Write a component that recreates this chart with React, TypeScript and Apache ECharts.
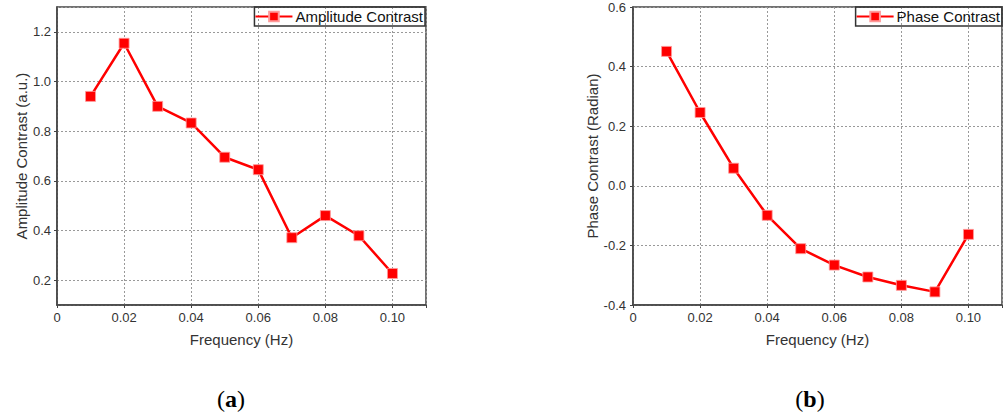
import React, { useEffect, useRef } from "react";
import * as echarts from "echarts";

const frequency = [0.01, 0.02, 0.03, 0.04, 0.05, 0.06, 0.07, 0.08, 0.09, 0.1];
const amplitude = [0.94, 1.154, 0.9, 0.833, 0.695, 0.645, 0.371, 0.46, 0.379, 0.227];
const phase = [0.451, 0.246, 0.059, -0.099, -0.211, -0.266, -0.306, -0.334, -0.356, -0.163];

const xTickLabel = (v: number) => {
  if (Math.abs(v) < 1e-9) return "0";
  if (v > 0.105) return "";
  return v.toFixed(2);
};
const yLabelA = (v: number) => {
  const k = v * 5;
  if (Math.abs(k - Math.round(k)) > 1e-6) return "";
  return v.toFixed(1);
};
const yLabelB = (v: number) => {
  const s = v.toFixed(1);
  return s === "-0.0" ? "0.0" : s;
};

const FONT = "Liberation Sans, Arial, sans-serif";
const TXT = "#333";

export default function App() {
  const ref = useRef<HTMLDivElement>(null);
  useEffect(() => {
    if (!ref.current) return;
    const chart = echarts.init(ref.current, undefined, { renderer: "svg" });
    const splitLine = { show: true, lineStyle: { color: "#999", type: [2, 2] as any, width: 1 } };
    const axisLine = { show: true, onZero: false, lineStyle: { color: "#444", width: 1.5 } };
    const axisTick = { show: true, length: 3, lineStyle: { color: "#444", width: 1 } };
    const xAxisCommon = {
      type: "value" as const,
      min: 0,
      max: 0.11,
      interval: 0.02,
      axisLine,
      axisTick,
      splitLine,
      axisLabel: { formatter: xTickLabel, color: TXT, fontSize: 13, fontFamily: FONT, margin: 6 },
      name: "Frequency (Hz)",
      nameLocation: "middle" as const,
      nameGap: 27,
      nameTextStyle: { fontSize: 15, fontFamily: FONT, color: TXT },
    };
    const seriesCommon = {
      type: "line" as const,
      symbol: "rect",
      symbolSize: 10,
      lineStyle: { color: "#ff0000", width: 2.5 },
      itemStyle: { color: "#ff0000", borderColor: "#ff9a9a", borderWidth: 0.8 },
      z: 5,
    };
    const legendCommon = {
      top: 7,
      orient: "horizontal" as const,
      borderColor: "#333",
      borderWidth: 1.5,
      padding: [2, 2, 2, 0],
      itemWidth: 37,
      itemHeight: 12,
      itemGap: 4,
      textStyle: { fontSize: 15, fontFamily: FONT, color: "#111", padding: [0, 0, 0, -2] },
    };
    const labelStyle = (text: string) => ({
      text,
      font: `24px Liberation Serif, serif`,
      fill: "#000",
      textAlign: "center",
      textVerticalAlign: "middle",
      rich: { b: { fontWeight: "bold", fontSize: 24, fontFamily: "Liberation Serif, serif" } },
    });
    chart.setOption({
      animation: false,
      backgroundColor: "#fff",
      grid: [
        { left: 57, top: 7, width: 369, height: 298, show: true, borderColor: "#444", borderWidth: 1.5 },
        { left: 633, top: 7, width: 369, height: 298, show: true, borderColor: "#444", borderWidth: 1.5 },
      ],
      xAxis: [
        { ...xAxisCommon, gridIndex: 0 },
        { ...xAxisCommon, gridIndex: 1 },
      ],
      yAxis: [
        {
          type: "value",
          gridIndex: 0,
          min: 0.1,
          max: 1.3,
          splitNumber: 6,
          axisLine,
          axisTick,
          splitLine,
          axisLabel: { formatter: yLabelA, color: TXT, fontSize: 13, fontFamily: FONT, margin: 6, showMinLabel: false, showMaxLabel: false },
          name: "Amplitude Contrast (a.u.)",
          nameLocation: "middle",
          nameGap: 28,
          nameTextStyle: { fontSize: 15, fontFamily: FONT, color: TXT },
        },
        {
          type: "value",
          gridIndex: 1,
          min: -0.4,
          max: 0.6,
          interval: 0.2,
          axisLine,
          axisTick,
          splitLine,
          axisLabel: { formatter: yLabelB, color: TXT, fontSize: 13, fontFamily: FONT, margin: 7 },
          name: "Phase Contrast (Radian)",
          nameLocation: "middle",
          nameGap: 30,
          nameTextStyle: { fontSize: 15, fontFamily: FONT, color: TXT },
        },
      ],
      legend: [
        { ...legendCommon, right: 1007 - 425, data: ["Amplitude Contrast"] },
        { ...legendCommon, right: 5, data: ["Phase Contrast"] },
      ],
      series: [
        {
          ...seriesCommon,
          name: "Amplitude Contrast",
          xAxisIndex: 0,
          yAxisIndex: 0,
          data: frequency.map((f, i) => [f, amplitude[i]]),
        },
        {
          ...seriesCommon,
          name: "Phase Contrast",
          xAxisIndex: 1,
          yAxisIndex: 1,
          data: frequency.map((f, i) => [f, phase[i]]),
        },
      ],
      graphic: [
        { type: "text", x: 231, y: 399, style: labelStyle("({b|a})") as any },
        { type: "text", x: 810, y: 399, style: labelStyle("({b|b})") as any },
      ],
    });
    return () => chart.dispose();
  }, []);
  return <div ref={ref} style={{ position: "fixed", left: 0, top: 0, width: 1007, height: 416 }} />;
}
